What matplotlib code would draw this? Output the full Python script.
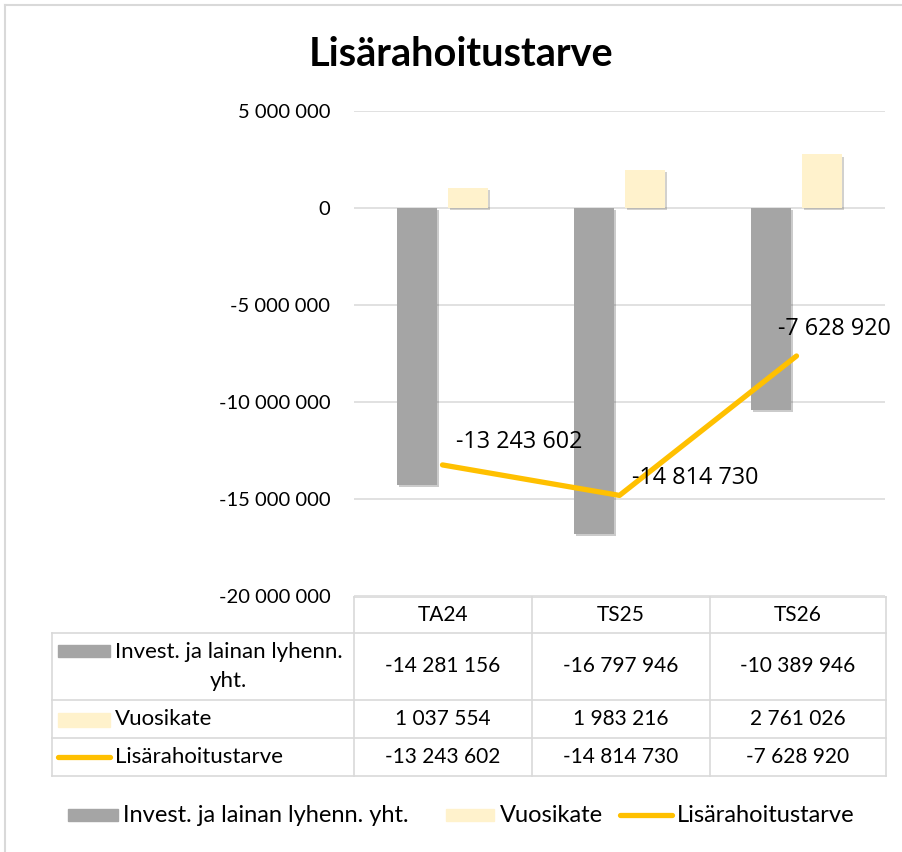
import numpy as np
import matplotlib
matplotlib.use("Agg")
import matplotlib.pyplot as plt
import matplotlib.patheffects as pe
from matplotlib.lines import Line2D
from matplotlib.patches import Rectangle

# data
categories = ["TA24", "TS25", "TS26"]
invest = [-14281156, -16797946, -10389946]
vuosikate = [1037554, 1983216, 2761026]
lisarahoitus = [-13243602, -14814730, -7628920]
series_names = ["Invest. ja lainan lyhenn. yht.", "Vuosikate", "Lisärahoitustarve"]
yticks = [5000000, 0, -5000000, -10000000, -15000000, -20000000]

GREY = "#A5A5A5"
BEIGE = "#FFF2CC"
GOLD = "#FFC000"
GRID = "#D9D9D9"
W, H = 903, 852

plt.rcParams['font.family'] = ['Lato', 'DejaVu Sans']


def fmt(v):
    s = f"{abs(int(v)):,}".replace(",", " ")
    return ("-" if v < 0 else "") + s


def fx(x):
    return x / W


def fy(y):
    return 1 - y / H


fig = plt.figure(figsize=(W / 100, H / 100), dpi=100)
ax = fig.add_axes([fx(354), fy(596), fx(885) - fx(354), fy(111) - fy(596)])

idx = np.arange(len(categories))
shadow = [pe.SimplePatchShadow(offset=(1.5, -1.5), alpha=0.25), pe.Normal()]
b1 = ax.bar(idx - 0.145, invest, width=0.226, color=GREY, zorder=2)
b2 = ax.bar(idx + 0.145, vuosikate, width=0.226, color=BEIGE, zorder=2)
for b in list(b1) + list(b2):
    b.set_path_effects(shadow)
ax.plot(idx, lisarahoitus, color=GOLD, lw=3.8, solid_capstyle="round",
        solid_joinstyle="round", zorder=3)

# data labels
offs = [(10, 8), (9, 4), (-13, 11)]
for i, v in enumerate(lisarahoitus):
    ax.annotate(fmt(v), (idx[i], v), xytext=offs[i], textcoords="offset points",
                ha="left", va="bottom", fontsize=16.8, family=['Open Sans', 'DejaVu Sans'],
                color="#000000", zorder=4)

ax.set_xlim(-0.5, 2.5)
ax.set_ylim(-20000000, 5000000)
ax.set_yticks(yticks)
ax.set_yticklabels([fmt(t) for t in yticks], fontsize=14.5)
ax.tick_params(axis="y", length=0, pad=17)
ax.set_xticks([])
ax.grid(axis="y", color=GRID, lw=1.1, zorder=0)
ax.set_axisbelow(True)
for s in ax.spines.values():
    s.set_visible(False)

fig.text(fx(461), fy(55), "Lisärahoitustarve", ha="center", va="center",
         fontsize=28.5, fontweight="bold")

# chart border
fig.add_artist(Line2D([fx(5), fx(903)], [fy(5), fy(5)], color=GRID, lw=1.5))
fig.add_artist(Line2D([fx(5), fx(5)], [fy(5), fy(852)], color=GRID, lw=1.5))

# data table
col_edges = [354, 532, 710, 886]
row_edges = [597, 633, 700, 738, 776]
tl = dict(color=GRID, lw=1.2)
fig.add_artist(Line2D([fx(354), fx(886)], [fy(597), fy(597)], **tl))
for y in row_edges[1:]:
    fig.add_artist(Line2D([fx(52), fx(886)], [fy(y), fy(y)], **tl))
fig.add_artist(Line2D([fx(52), fx(52)], [fy(633), fy(776)], **tl))
for x in col_edges:
    fig.add_artist(Line2D([fx(x), fx(x)], [fy(597), fy(776)], **tl))

TFS = 15
RFS = 16
centers = [(col_edges[i] + col_edges[i + 1]) / 2 for i in range(3)]
for c, cat in zip(centers, categories):
    fig.text(fx(c), fy(615), cat, ha="center", va="center", fontsize=TFS)
row_y = [666, 719, 757]
for vals, ry in zip([invest, vuosikate, lisarahoitus], row_y):
    for c, v in zip(centers, vals):
        fig.text(fx(c), fy(ry), fmt(v), ha="center", va="center", fontsize=TFS)

# table legend keys
fig.add_artist(Rectangle((fx(58), fy(657)), fx(110) - fx(58), fy(645) - fy(657), color=GREY))
fig.text(fx(115), fy(652), "Invest. ja lainan lyhenn.", ha="left", va="center", fontsize=RFS)
fig.text(fx(228), fy(681), "yht.", ha="center", va="center", fontsize=RFS)
fig.add_artist(Rectangle((fx(58), fy(727)), fx(110) - fx(58), fy(713) - fy(727), color=BEIGE))
fig.text(fx(115), fy(719), series_names[1], ha="left", va="center", fontsize=RFS)
fig.add_artist(Line2D([fx(58), fx(110)], [fy(757), fy(757)], color=GOLD, lw=3.8,
                      solid_capstyle="round"))
fig.text(fx(115), fy(757), series_names[2], ha="left", va="center", fontsize=RFS)

# bottom legend
LFS = 17
fig.add_artist(Rectangle((fx(68), fy(821)), fx(118) - fx(68), fy(809) - fy(821), color=GREY))
fig.text(fx(123), fy(815), series_names[0], ha="left", va="center", fontsize=LFS)
fig.add_artist(Rectangle((fx(446), fy(821)), fx(494) - fx(446), fy(809) - fy(821), color=BEIGE))
fig.text(fx(500), fy(815), series_names[1], ha="left", va="center", fontsize=LFS)
fig.add_artist(Line2D([fx(620), fx(672)], [fy(815), fy(815)], color=GOLD, lw=3.8,
                      solid_capstyle="round"))
fig.text(fx(677), fy(815), series_names[2], ha="left", va="center", fontsize=LFS)

fig.savefig("out.png", dpi=100)
